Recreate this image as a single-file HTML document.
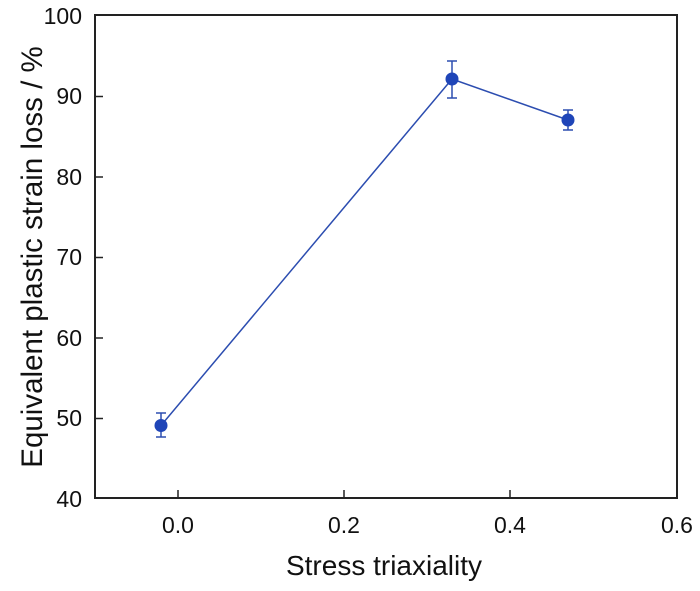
<!DOCTYPE html>
<html><head><style>body{margin:0;background:#fff}</style></head><body>
<svg width="700" height="586" xmlns="http://www.w3.org/2000/svg" font-family="Liberation Sans, sans-serif">
<rect x="95" y="15" width="582" height="483" fill="none" stroke="#222" stroke-width="2"/>
<g stroke="#222" stroke-width="1.5">
<line x1="95" y1="96.5" x2="103" y2="96.5"/><line x1="95" y1="177" x2="103" y2="177"/>
<line x1="95" y1="257.5" x2="103" y2="257.5"/><line x1="95" y1="338" x2="103" y2="338"/>
<line x1="95" y1="418.5" x2="103" y2="418.5"/>
<line x1="178" y1="498" x2="178" y2="490"/><line x1="344" y1="498" x2="344" y2="490"/>
<line x1="510" y1="498" x2="510" y2="490"/>
</g>
<g font-size="23" fill="#111" text-anchor="end">
<text x="82" y="24">100</text><text x="82" y="104">90</text><text x="82" y="185">80</text>
<text x="82" y="265">70</text><text x="82" y="346">60</text><text x="82" y="426">50</text>
<text x="82" y="507">40</text></g>
<g font-size="23" fill="#111" text-anchor="middle">
<text x="178" y="533">0.0</text><text x="344" y="533">0.2</text><text x="510" y="533">0.4</text><text x="677" y="533">0.6</text></g>
<text x="384" y="575" font-size="28" text-anchor="middle" fill="#111">Stress triaxiality</text>
<text transform="translate(42,257) rotate(-90)" font-size="29.5" text-anchor="middle" fill="#111">Equivalent plastic strain loss / %</text>
<polyline points="161,425.5 452,79 568,120" fill="none" stroke="#2c4db0" stroke-width="1.5"/>
<g stroke="#2c4db0" stroke-width="1.5">
<line x1="161" y1="413" x2="161" y2="437"/><line x1="156" y1="413" x2="166" y2="413"/><line x1="156" y1="437" x2="166" y2="437"/>
<line x1="452" y1="61" x2="452" y2="98"/><line x1="447" y1="61" x2="457" y2="61"/><line x1="447" y1="98" x2="457" y2="98"/>
<line x1="568" y1="110" x2="568" y2="130"/><line x1="563" y1="110" x2="573" y2="110"/><line x1="563" y1="130" x2="573" y2="130"/>
</g>
<g fill="#1f45b8"><circle cx="161" cy="425.5" r="6.5"/><circle cx="452" cy="79" r="6.5"/><circle cx="568" cy="120" r="6.5"/></g>
</svg>
</body></html>
